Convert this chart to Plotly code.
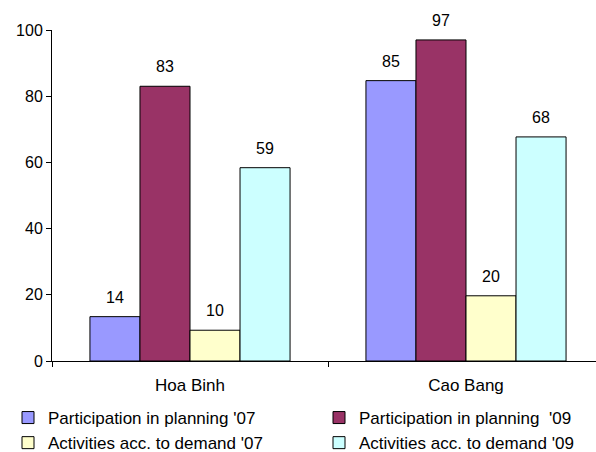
import plotly.graph_objects as go

categories = ["Hoa Binh", "Cao Bang"]
series_names = ["Participation in planning '07", "Participation in planning  '09",
                "Activities acc. to demand '07", "Activities acc. to demand '09"]
part_07 = [13.4, 84.7]
part_09 = [83.0, 97.0]
act_07 = [9.3, 19.7]
act_09 = [58.4, 67.7]
labels_part_07 = ["14", "85"]
labels_part_09 = ["83", "97"]
labels_act_07 = ["10", "20"]
labels_act_09 = ["59", "68"]
colors = ["#9999FF", "#993366", "#FFFFCC", "#CCFFFF"]

series = [part_07, part_09, act_07, act_09]
labels = [labels_part_07, labels_part_09, labels_act_07, labels_act_09]
legend_ids = ["legend", "legend2", "legend", "legend2"]

FONT = "Liberation Sans, Arial, sans-serif"
bargap = 0.275
n = len(series)
w = (1 - bargap) / n

fig = go.Figure()
for i, (name, vals, col, lg) in enumerate(zip(series_names, series, colors, legend_ids)):
    fig.add_trace(go.Bar(x=categories, y=vals, name=name, legend=lg, legendgroup=f"g{i}",
                         marker=dict(color=col, line=dict(color="black", width=1))))

annotations = []
for si, (vals, labs) in enumerate(zip(series, labels)):
    for ci, (v, t) in enumerate(zip(vals, labs)):
        annotations.append(dict(x=ci + (si - (n - 1) / 2) * w, y=v, xref="x", yref="y",
                                text=t, showarrow=False, yanchor="bottom", yshift=9,
                                font=dict(family=FONT, size=16, color="black")))

legend_common = dict(orientation="v", xref="container", yref="container",
                     xanchor="left", yanchor="top", tracegroupgap=0,
                     font=dict(family=FONT, size=17, color="black"),
                     bgcolor="rgba(0,0,0,0)", itemwidth=30)

fig.update_layout(
    width=596, height=452,
    margin=dict(l=52, r=0, t=30, b=91, autoexpand=False),
    paper_bgcolor="white", plot_bgcolor="white",
    barmode="group", bargap=bargap, bargroupgap=0,
    font=dict(family=FONT, size=17, color="black"),
    annotations=annotations,
    showlegend=True,
    legend=dict(x=8 / 596, y=(452 - 400) / 452, **legend_common),
    legend2=dict(x=319 / 596, y=(452 - 400) / 452, **legend_common),
)
fig.update_xaxes(type="category", range=[-0.5, 1.471], showline=True, linecolor="black",
                 linewidth=1, ticks="outside", tickson="boundaries", ticklen=5,
                 tickcolor="black", showgrid=False, zeroline=False, ticklabelstandoff=9,
                 automargin=False, tickfont=dict(family=FONT, size=17, color="black"))
fig.update_yaxes(range=[0, 100], dtick=20, showline=True, linecolor="black", linewidth=1,
                 ticks="outside", ticklen=5, tickcolor="black", showgrid=False,
                 zeroline=False, automargin=False,
                 tickfont=dict(family=FONT, size=16, color="black"))

fig.write_html("out.html")
